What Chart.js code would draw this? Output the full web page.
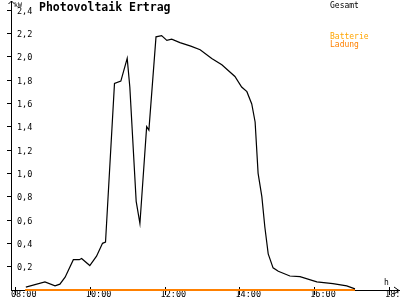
<!DOCTYPE html>
<html>
<head>
<meta charset="utf-8">
<script src="https://cdn.jsdelivr.net/npm/chart.js@4.4.0/dist/chart.umd.min.js"></script>
<style>
html, body { margin: 0; padding: 0; background: #fff; }
#wrap { width: 400px; height: 300px; }
</style>
</head>
<body>
<div id="wrap"><canvas id="myChart"></canvas></div>
<script>
// Uhrzeit (Stunden) und Leistung in kW
var zeiten = [8.29, 8.80, 9.07, 9.20, 9.34, 9.56, 9.72, 9.78, 10.00, 10.18, 10.34, 10.42,
  10.66, 10.83, 11.00, 11.07, 11.24, 11.34, 11.52, 11.58, 11.77, 11.92, 12.06, 12.19,
  12.41, 12.70, 12.95, 13.26, 13.53, 13.88, 14.06, 14.20, 14.33, 14.42, 14.50, 14.60,
  14.68, 14.77, 14.90, 15.04, 15.35, 15.62, 16.07, 16.50, 16.87, 17.09];
var gesamt = [0.025, 0.07, 0.035, 0.05, 0.11, 0.26, 0.26, 0.27, 0.21, 0.29, 0.40, 0.41,
  1.77, 1.79, 1.985, 1.74, 0.76, 0.57, 1.40, 1.37, 2.17, 2.18, 2.14, 2.15,
  2.12, 2.09, 2.06, 1.985, 1.93, 1.83, 1.74, 1.70, 1.595, 1.44, 1.00, 0.80,
  0.54, 0.31, 0.19, 0.16, 0.12, 0.115, 0.07, 0.055, 0.035, 0.01];
var ladungZeiten = [8.27, 17.09];
var ladung = [0, 0];

var xTicks = [8, 10, 12, 14, 16, 18];
var yTicks = [0.2, 0.4, 0.6, 0.8, 1.0, 1.2, 1.4, 1.6, 1.8, 2.0, 2.2, 2.4];

var mono = 'DejaVu Sans Mono';

function punkte(xs, ys) {
    return xs.map(function (x, i) { return { x: x, y: ys[i] }; });
}

// Titel, Pfeile, Achsenbeschriftung, Legende
var extras = {
    id: 'extras',
    beforeDatasetsDraw: function (chart) {
        var ctx = chart.ctx;
        var xs = chart.scales.x;
        var a = chart.chartArea;
        ctx.save();
        ctx.strokeStyle = '#000';
        ctx.lineWidth = 1;
        ctx.beginPath();
        // x ticks ueber und unter der Achse
        xs.ticks.forEach(function (t) {
            var px = Math.round(xs.getPixelForValue(t.value)) + 0.5;
            ctx.moveTo(px, a.bottom - 3);
            ctx.lineTo(px, a.bottom + 5);
        });
        // y Pfeil
        ctx.moveTo(a.left + 0.5, a.top);
        ctx.lineTo(a.left + 0.5, 1);
        ctx.moveTo(a.left - 2.5, 4);
        ctx.lineTo(a.left + 0.5, 1);
        ctx.lineTo(a.left + 3.5, 4);
        // x Pfeil
        ctx.moveTo(a.right - 5, a.bottom - 3);
        ctx.lineTo(a.right, a.bottom + 0.5);
        ctx.lineTo(a.right - 5, a.bottom + 4);
        ctx.stroke();
        ctx.restore();
    },
    afterDraw: function (chart) {
        var ctx = chart.ctx;
        ctx.save();
        ctx.textBaseline = 'alphabetic';
        ctx.textAlign = 'left';
        ctx.fillStyle = '#000';
        ctx.font = 'bold 11.5px "' + mono + '"';
        ctx.fillText('Photovoltaik Ertrag', 39, 11);
        ctx.font = '6.5px "' + mono + '"';
        ctx.fillText('kW', 14, 7);
        ctx.font = '8px "' + mono + '"';
        ctx.fillText('h', 384, 285);
        ctx.fillText('Gesamt', 330, 7.5);
        ctx.fillStyle = '#ffa500';
        ctx.fillText('Batterie', 330, 39);
        ctx.fillStyle = '#ff8000';
        ctx.fillText('Ladung', 330, 47);
        ctx.restore();
    }
};

var graph = new Chart(document.getElementById('myChart'), {
    type: 'line',
    data: {
        datasets: [
            {
                label: 'Gesamt',
                data: punkte(zeiten, gesamt),
                borderColor: '#000',
                borderWidth: 1.2,
                pointRadius: 0,
                tension: 0,
                fill: false,
                clip: false
            },
            {
                label: 'Batterie Ladung',
                data: punkte(ladungZeiten, ladung),
                borderColor: '#ff8000',
                borderWidth: 2,
                pointRadius: 0,
                tension: 0,
                fill: false,
                clip: false
            }
        ]
    },
    options: {
        responsive: true,
        maintainAspectRatio: false,
        animation: false,
        devicePixelRatio: 1,
        layout: { autoPadding: false, padding: { top: 10, right: 1, left: 0, bottom: 0 } },
        plugins: {
            legend: { display: false },
            title: { display: false },
            tooltip: { enabled: false }
        },
        scales: {
            x: {
                type: 'linear',
                min: 7.893,
                max: 18.267,
                afterBuildTicks: function (s) { s.ticks = xTicks.map(function (v) { return { value: v }; }); },
                afterFit: function (s) {
                    s.height = 10;
                    s.paddingLeft = 0;
                    s.paddingRight = 0;
                },
                grid: { drawOnChartArea: false, drawTicks: false },
                border: { color: '#000', width: 1 },
                ticks: {
                    color: '#000',
                    font: { family: mono, size: 8.5, lineHeight: 1 },
                    padding: 1,
                    align: 'start',
                    labelOffset: -4,
                    maxRotation: 0,
                    autoSkip: false,
                    callback: function (v) { return (v < 10 ? '0' : '') + v + ':00'; }
                }
            },
            y: {
                min: 0,
                max: 2.4,
                afterBuildTicks: function (s) { s.ticks = yTicks.map(function (v) { return { value: v }; }); },
                afterFit: function (s) {
                    s.width = 11;
                    s.paddingTop = 0;
                    s.paddingBottom = 0;
                },
                grid: { drawOnChartArea: false, drawTicks: true, tickLength: 4, color: '#000' },
                border: { color: '#000', width: 1 },
                ticks: {
                    color: '#000',
                    font: { family: mono, size: 8.5 },
                    mirror: true,
                    padding: 6,
                    labelOffset: 1.5,
                    callback: function (v) { return v.toFixed(1).replace('.', ','); }
                }
            }
        }
    },
    plugins: [extras]
});
</script>
</body>
</html>
